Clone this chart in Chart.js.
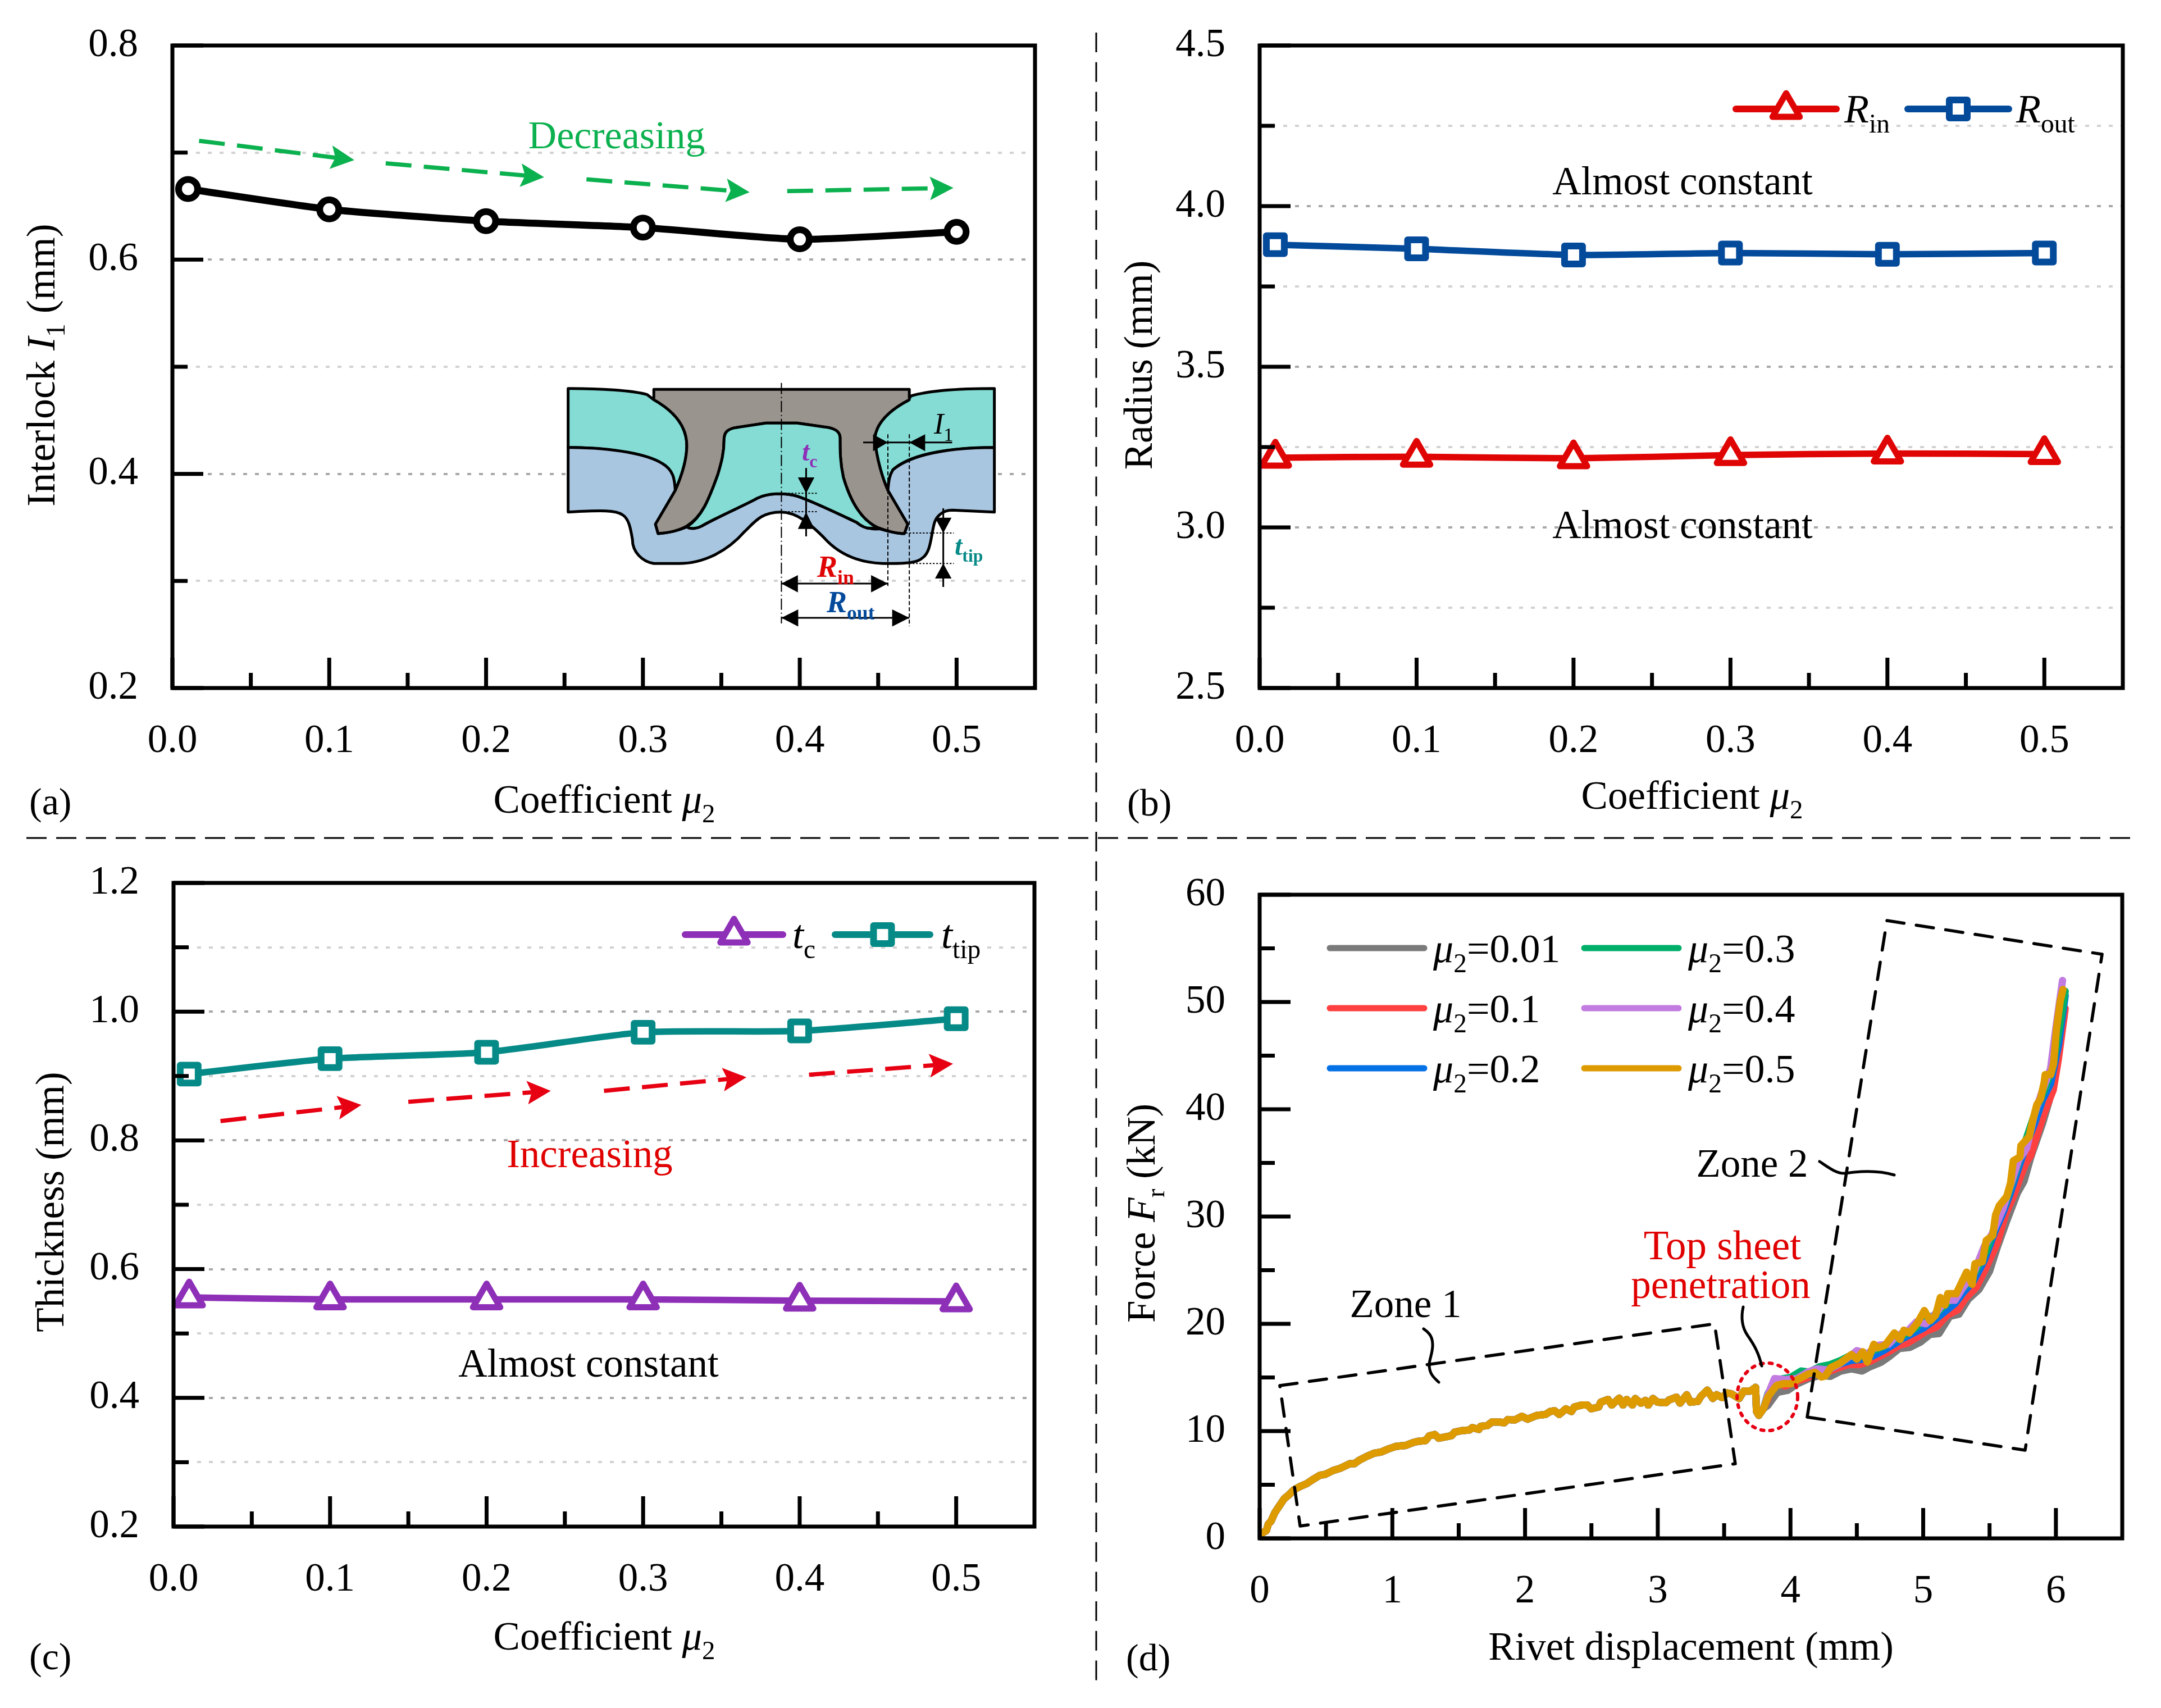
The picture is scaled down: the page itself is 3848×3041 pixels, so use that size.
<!DOCTYPE html>
<html>
<head>
<meta charset="utf-8">
<title>Effect of friction coefficient</title>
<script src="https://cdn.jsdelivr.net/npm/chart.js@4"></script>
<style>
    html, body { margin: 0; padding: 0; background: #fff; }
    #page { position: relative; width: 3848px; height: 3041px; overflow: hidden; background: #fff; font-family: "Liberation Serif", serif; }
    canvas { position: absolute; }
    svg { position: absolute; left: 0; top: 0; }
    .lbl { position: absolute; white-space: nowrap; line-height: 1; color: #000; }
    .lbl sub { font-size: .66em; vertical-align: -.38em; line-height: 0; }
</style>
</head>
<body>
<div id="page">
    <canvas id="panel-a"></canvas>
    <canvas id="panel-b"></canvas>
    <canvas id="panel-c"></canvas>
    <canvas id="panel-d"></canvas>
    <svg id="overlay" width="3848" height="3041" viewBox="0 0 3848 3041" fill="none">
        <!-- panel separators -->
        <path d="M47 1492H3800" stroke="#000" stroke-width="3" stroke-dasharray="36 17"/>
        <path d="M1952 58V3000" stroke="#000" stroke-width="3" stroke-dasharray="35 17.7"/>
        <!-- leader curves, panel d -->
        <g stroke="#000" stroke-width="5" stroke-linecap="round">
            <path d="M2535 2366C2548 2375 2551 2383 2551 2395C2551 2410 2545 2420 2545 2430C2545 2445 2552 2452 2562 2461"/>
            <path d="M3104 2327C3100 2345 3101 2362 3112 2378C3124 2395 3132 2410 3137 2432"/>
            <path d="M3240 2068C3255 2078 3270 2090 3286 2089C3305 2086 3340 2082 3373 2092"/>
        </g>
        <!-- cross-section sketch, panel a -->
        <g transform="translate(950 650) scale(.587 .3333)" stroke="#000" stroke-width="5" stroke-linejoin="round">
            <g vector-effect="non-scaling-stroke">
            <path vector-effect="non-scaling-stroke" fill="#84dcd4" d="M105 125C200 125 300 135 345 158L365 185C420 240 465 320 465 430C465 520 445 610 430 670L415 570C400 520 300 440 105 440Z"/>
            <path vector-effect="non-scaling-stroke" fill="#84dcd4" d="M1398 125C1300 125 1200 135 1145 165L1135 190C1080 240 1040 310 1035 390C1040 500 1060 610 1075 670C1075 620 1080 590 1090 560C1120 510 1200 440 1398 440Z"/>
            <path vector-effect="non-scaling-stroke" fill="#a9c6e1" d="M105 440C250 440 350 480 390 525C425 560 428 610 430 670L370 850L378 900C420 895 445 880 465 865C480 880 500 870 510 860C570 800 640 750 680 710C710 685 760 680 800 700C850 730 920 790 980 840C1000 870 1030 880 1050 875C1070 885 1100 900 1125 900L1135 850L1075 670C1078 610 1080 590 1090 560C1130 500 1220 440 1398 440L1398 785L1270 775C1240 775 1220 810 1215 850C1205 920 1205 1000 1180 1030C1165 1055 1140 1060 1060 1060C980 1055 920 1000 880 920C840 850 800 785 750 785C690 785 670 840 640 890C590 990 520 1060 440 1060L365 1060C330 1050 300 1000 300 930C295 880 290 820 270 800C250 775 210 775 105 785Z"/>
            <path vector-effect="non-scaling-stroke" fill="#9a948e" d="M365 130L1140 130L1140 185C1080 240 1040 310 1035 390C1040 500 1060 610 1075 670L1135 850L1125 900C1100 900 1070 885 1040 865C990 820 960 720 940 600C930 520 930 460 930 390C930 350 910 335 880 330L800 310L705 310L610 335C585 345 578 365 578 400C578 470 570 520 560 580C530 730 510 810 465 860C445 880 420 895 378 900L370 850L430 670C445 610 465 520 465 430C465 320 420 240 365 185Z"/>
            <path vector-effect="non-scaling-stroke" fill="#84dcd4" d="M578 400C578 365 585 345 610 335L705 310L800 310L880 330C910 335 930 350 930 390C930 460 930 520 940 600C960 720 990 820 1040 865C1020 880 1000 870 980 840C920 790 850 730 800 700C760 680 710 685 680 710C640 750 570 800 510 860C500 870 480 880 465 865C510 810 530 730 560 580C570 520 578 470 578 400Z"/>
            </g>
            <g stroke-width="2">
                <path vector-effect="non-scaling-stroke" stroke-dasharray="20 5 2 5" d="M752 95V1380"/>
                <path vector-effect="non-scaling-stroke" stroke-dasharray="7 4" d="M1075 370V1180M1140 370V1395"/>
                <path vector-effect="non-scaling-stroke" stroke-dasharray="3 3" d="M752 685H860M752 783H860M1130 897H1275M1140 1060H1275"/>
                <path vector-effect="non-scaling-stroke" stroke-width="3" d="M1000 413H1270M827 550V915M1243 765V1185M752 1167H1075M752 1350H1140"/>
            </g>
            <path fill="#000" stroke="none" d="M1030 370V460L1075 413ZM1188 370V460L1140 413ZM802 600H852L827 685ZM802 875H852L827 785ZM1218 815H1268L1243 897ZM1218 1140H1268L1243 1060ZM802 1122V1214L752 1167ZM1024 1122V1214L1075 1167ZM803 1305V1397L752 1350ZM1088 1305V1397L1140 1350Z"/>
        </g>
    </svg>
</div>

<script>
// friction coefficient, panels a to c
const frictionCoeff = [0.01, 0.1, 0.2, 0.3, 0.4, 0.5];
const interlockI1 = [0.666, 0.647, 0.636, 0.630, 0.619, 0.626];
const radiusIn = [3.217, 3.220, 3.215, 3.225, 3.230, 3.228];
const radiusOut = [3.880, 3.867, 3.848, 3.854, 3.850, 3.854];
const thicknessC = [0.556, 0.553, 0.553, 0.553, 0.551, 0.550];
const thicknessTip = [0.903, 0.927, 0.937, 0.968, 0.970, 0.989];

// force curves: all six runs share the path up to sheet penetration
const sharedDisp = [0.004, 0.016, 0.051, 0.065, 0.086, 0.114, 0.142, 0.185, 0.220, 0.255, 0.298, 0.354, 0.396, 0.453, 0.495, 0.552, 0.608, 0.679, 0.714, 0.749, 0.805, 0.862, 0.918, 0.975, 1.031, 1.102, 1.158, 1.200, 1.250, 1.278, 1.320, 1.349, 1.398, 1.447, 1.468, 1.525, 1.581, 1.602, 1.652, 1.666, 1.715, 1.751, 1.807, 1.842, 1.870, 1.920, 1.976, 2.019, 2.089, 2.153, 2.188, 2.223, 2.258, 2.308, 2.350, 2.371, 2.428, 2.470, 2.498, 2.555, 2.569, 2.625, 2.653, 2.710, 2.738, 2.766, 2.809, 2.830, 2.872, 2.907, 2.928, 2.964, 2.999, 3.063, 3.084, 3.140, 3.168, 3.218, 3.246, 3.302, 3.323, 3.373, 3.415, 3.443, 3.486, 3.521, 3.556, 3.613, 3.648, 3.697, 3.737, 3.744, 3.761, 3.796];
const sharedForce = [0.12, 0.47, 0.73, 1.34, 1.61, 2.39, 2.91, 3.70, 4.05, 4.49, 4.80, 5.10, 5.45, 5.88, 5.97, 6.32, 6.54, 6.96, 6.96, 7.28, 7.63, 7.94, 8.06, 8.36, 8.59, 8.67, 8.94, 9.06, 9.11, 9.55, 9.69, 9.34, 9.46, 9.58, 9.90, 10.04, 10.10, 10.33, 10.16, 10.45, 10.51, 10.85, 10.85, 10.77, 11.08, 11.03, 11.38, 11.12, 11.47, 11.55, 11.82, 11.90, 11.55, 12.08, 11.82, 12.25, 12.43, 12.43, 12.08, 12.25, 12.69, 12.95, 12.43, 13.07, 12.43, 12.95, 12.43, 13.04, 12.60, 12.86, 12.43, 13.04, 12.69, 12.65, 12.90, 13.16, 12.60, 13.39, 12.69, 12.77, 13.21, 13.82, 13.04, 13.39, 13.12, 13.56, 13.47, 13.04, 13.73, 13.73, 14.08, 11.82, 11.47, 12.08];

const grayDisp = [3.83, 3.90, 3.98, 4.05, 4.14, 4.22, 4.30, 4.38, 4.46, 4.54, 4.60, 4.68, 4.74, 4.82, 4.90, 4.98, 5.05, 5.12, 5.20, 5.27, 5.34, 5.42, 5.50, 5.56, 5.63, 5.71, 5.76, 5.81, 5.90, 5.95, 6.00, 6.06];
const grayForce = [12.4, 13.6, 13.8, 14.4, 14.9, 15.2, 15.1, 15.6, 15.8, 15.6, 16.0, 16.4, 16.9, 17.7, 17.8, 18.3, 19.0, 19.1, 20.7, 20.9, 22.3, 23.2, 24.9, 27.2, 29.6, 32.2, 33.3, 35.5, 38.7, 40.8, 44.5, 48.5];
const redDisp = [3.83, 3.88, 3.96, 4.06, 4.13, 4.20, 4.28, 4.36, 4.44, 4.52, 4.60, 4.66, 4.74, 4.82, 4.88, 4.96, 5.02, 5.10, 5.18, 5.26, 5.32, 5.40, 5.48, 5.56, 5.62, 5.68, 5.73, 5.77, 5.81, 5.91, 5.98, 6.02, 6.07];
const redForce = [13.0, 14.6, 14.2, 14.7, 15.0, 15.5, 15.5, 15.9, 16.2, 16.2, 16.5, 16.9, 17.4, 18.0, 18.2, 18.8, 19.3, 19.7, 20.8, 21.3, 22.4, 23.4, 25.4, 27.6, 30.2, 31.9, 33.6, 34.9, 35.7, 39.6, 41.8, 44.8, 49.4];
const blueDisp = [3.83, 3.90, 3.98, 4.06, 4.15, 4.22, 4.30, 4.38, 4.46, 4.54, 4.62, 4.70, 4.78, 4.84, 4.92, 5.00, 5.08, 5.16, 5.24, 5.30, 5.38, 5.46, 5.54, 5.60, 5.66, 5.72, 5.78, 5.84, 5.90, 5.96, 6.02, 6.07];
const blueForce = [13.2, 14.4, 14.5, 15.1, 15.3, 15.8, 15.8, 16.3, 16.6, 16.7, 17.0, 17.5, 18.1, 18.6, 19.1, 19.6, 20.3, 21.1, 21.9, 22.9, 24.0, 25.9, 28.6, 30.3, 32.3, 34.6, 36.8, 38.7, 40.9, 42.4, 46.0, 50.6];
const greenDisp = [3.83, 3.90, 4.00, 4.08, 4.14, 4.22, 4.30, 4.38, 4.46, 4.54, 4.62, 4.70, 4.78, 4.86, 4.94, 5.00, 5.08, 5.16, 5.24, 5.32, 5.40, 5.48, 5.54, 5.62, 5.68, 5.74, 5.80, 5.86, 5.92, 5.98, 6.03, 6.07];
const greenForce = [13.5, 14.8, 15.0, 15.6, 15.5, 16.0, 16.2, 16.6, 17.1, 17.0, 17.5, 17.9, 18.5, 19.0, 19.6, 20.3, 20.8, 21.7, 22.6, 23.6, 25.0, 26.9, 29.1, 31.3, 33.6, 35.9, 38.1, 40.3, 42.0, 44.2, 47.8, 51.0];
const purpleDisp = [3.83, 3.88, 3.96, 4.05, 4.13, 4.20, 4.28, 4.36, 4.44, 4.50, 4.58, 4.66, 4.74, 4.80, 4.88, 4.95, 5.02, 5.09, 5.17, 5.24, 5.30, 5.38, 5.46, 5.52, 5.60, 5.66, 5.72, 5.78, 5.84, 5.90, 5.96, 6.00, 6.05];
const purpleForce = [13.4, 14.9, 14.8, 14.9, 15.5, 15.8, 15.7, 16.2, 16.9, 17.5, 17.2, 18.0, 18.1, 18.9, 19.3, 20.2, 20.0, 20.9, 22.2, 22.2, 23.4, 24.7, 27.2, 28.4, 30.7, 33.0, 35.3, 36.4, 39.6, 41.8, 43.8, 47.6, 52.0];
const goldDisp = [3.831, 3.895, 3.951, 4.008, 4.050, 4.134, 4.184, 4.233, 4.262, 4.304, 4.374, 4.459, 4.501, 4.544, 4.579, 4.628, 4.656, 4.713, 4.783, 4.826, 4.854, 4.896, 4.953, 5.009, 5.052, 5.094, 5.129, 5.164, 5.185, 5.249, 5.327, 5.369, 5.390, 5.446, 5.475, 5.524, 5.545, 5.573, 5.630, 5.658, 5.679, 5.729, 5.736, 5.799, 5.820, 5.856, 5.884, 5.912, 5.919, 5.961, 5.983, 6.004, 6.032, 6.053];
const goldForce = [13.21, 14.26, 14.43, 14.43, 14.78, 15.31, 15.48, 15.04, 15.13, 15.92, 16.35, 17.14, 16.70, 17.40, 16.44, 18.10, 17.75, 18.01, 19.15, 18.53, 19.41, 19.15, 20.02, 21.24, 20.28, 20.80, 22.46, 21.76, 22.81, 22.81, 24.82, 23.68, 25.60, 25.78, 27.78, 28.22, 30.14, 31.01, 31.88, 33.11, 35.20, 35.55, 36.60, 37.47, 38.69, 40.43, 40.96, 42.53, 43.23, 43.23, 44.28, 47.42, 50.04, 51.17];

// tick values
const coeffTicks = [0, 0.1, 0.2, 0.3, 0.4, 0.5];
const coeffMinorTicks = [0.05, 0.15, 0.25, 0.35, 0.45];
const interlockTicks = [0.2, 0.4, 0.6, 0.8];
const interlockMinorTicks = [0.3, 0.5, 0.7];
const radiusTicks = [2.5, 3, 3.5, 4, 4.5];
const radiusMinorTicks = [2.75, 3.25, 3.75, 4.25];
const thicknessTicks = [0.2, 0.4, 0.6, 0.8, 1, 1.2];
const thicknessMinorTicks = [0.3, 0.5, 0.7, 0.9, 1.1];
const dispTicks = [0, 1, 2, 3, 4, 5, 6];
const dispMinorTicks = [0.5, 1.5, 2.5, 3.5, 4.5, 5.5];
const forceTicks = [0, 10, 20, 30, 40, 50, 60];
const forceMinorTicks = [5, 15, 25, 35, 45, 55];

// trend arrows, data units of their panel: x0, y0, x1, y1
const decreasingArrows = [[0.017, 0.711, 0.116, 0.693], [0.136, 0.690, 0.237, 0.677], [0.264, 0.675, 0.368, 0.663], [0.392, 0.664, 0.498, 0.667]];
const increasingArrows = [[0.030, 0.830, 0.120, 0.855], [0.150, 0.860, 0.241, 0.877], [0.275, 0.877, 0.366, 0.898], [0.406, 0.902, 0.498, 0.919]];

// zone outlines in panel d, data units
const zone1Box = [[0.152, 14.24], [3.428, 20.0], [3.584, 6.96], [0.305, 1.15]];
const zone2Box = [[4.126, 11.31], [5.768, 8.22], [6.348, 54.45], [4.727, 57.59]];
const penetrationSpot = { x: 3.826, y: 13.19, rx: 0.228, ry: 3.15 };

const SERIF = '"Liberation Serif", serif';
const RED = '#e00505';
const DEEP_BLUE = '#034a9b';
const PURPLE = '#8e2fb8';
const TEAL = '#068a87';
const ARROW_GREEN = '#0cb14f';
const ARROW_RED = '#e60012';
const TEXT_RED = '#e00000';

const CURVE_COLORS = { gray: '#7a7a7a', red: '#ff4040', blue: '#0571e6', green: '#00b06a', purple: '#c27be0', gold: '#dd9b00' };

function xy(xs, ys) {
    return xs.map((x, i) => ({ x: x, y: ys[i] }));
}

function withShared(disp, force) {
    return xy(sharedDisp.concat(disp), sharedForce.concat(force));
}

function drawMarker(ctx, style, x, y, radius) {
    ctx.beginPath();
    if (style === 'triangle') {
        const half = radius * Math.sqrt(3) / 2;
        ctx.moveTo(x, y - radius);
        ctx.lineTo(x + half, y + radius / 2);
        ctx.lineTo(x - half, y + radius / 2);
        ctx.closePath();
    } else {
        const half = radius * Math.SQRT1_2;
        ctx.rect(x - half, y - half, half * 2, half * 2);
    }
    ctx.fill();
    ctx.stroke();
}

// frame ticks, trend arrows, swatches and zone outlines, all on top of the curves
function makeDecor(cfg) {
    return {
        id: 'decor',
        beforeDatasetsDraw(chart) {
            chart.ctx.lineJoin = 'round';
        },
        afterDatasetsDraw(chart) {
            const ctx = chart.ctx;
            const area = chart.chartArea;
            const sx = chart.scales.x;
            const sy = chart.scales.y;

            ctx.save();
            (cfg.arrows || []).forEach(a => {
                const x0 = sx.getPixelForValue(a[0]), y0 = sy.getPixelForValue(a[1]);
                const x1 = sx.getPixelForValue(a[2]), y1 = sy.getPixelForValue(a[3]);
                const ang = Math.atan2(y1 - y0, x1 - x0);
                const headLen = 42, headHalf = 21;
                ctx.strokeStyle = cfg.arrowColor;
                ctx.fillStyle = cfg.arrowColor;
                ctx.lineWidth = 7.5;
                ctx.setLineDash([46, 22]);
                ctx.lineCap = 'butt';
                ctx.beginPath();
                ctx.moveTo(x0, y0);
                ctx.lineTo(x1 - Math.cos(ang) * (headLen - 8), y1 - Math.sin(ang) * (headLen - 8));
                ctx.stroke();
                ctx.setLineDash([]);
                ctx.translate(x1, y1);
                ctx.rotate(ang);
                ctx.beginPath();
                ctx.moveTo(0, 0);
                ctx.lineTo(-headLen, -headHalf);
                ctx.lineTo(-headLen + 8, 0);
                ctx.lineTo(-headLen, headHalf);
                ctx.closePath();
                ctx.fill();
                ctx.rotate(-ang);
                ctx.translate(-x1, -y1);
            });

            (cfg.boxes || []).forEach(box => {
                ctx.strokeStyle = '#000';
                ctx.lineWidth = 5.5;
                ctx.lineCap = 'round';
                ctx.setLineDash([31, 22]);
                ctx.beginPath();
                box.forEach((p, i) => {
                    const px = sx.getPixelForValue(p[0]), py = sy.getPixelForValue(p[1]);
                    if (i === 0) ctx.moveTo(px, py); else ctx.lineTo(px, py);
                });
                ctx.closePath();
                ctx.stroke();
            });

            if (cfg.spot) {
                const cx = sx.getPixelForValue(cfg.spot.x), cy = sy.getPixelForValue(cfg.spot.y);
                ctx.strokeStyle = ARROW_RED;
                ctx.lineWidth = 6;
                ctx.lineCap = 'round';
                ctx.setLineDash([5, 11]);
                ctx.beginPath();
                ctx.ellipse(cx, cy, sx.getPixelForValue(cfg.spot.x + cfg.spot.rx) - cx, cy - sy.getPixelForValue(cfg.spot.y + cfg.spot.ry), 0, 0, Math.PI * 2);
                ctx.stroke();
            }
            ctx.setLineDash([]);

            // legend swatches, page position minus canvas offset
            (cfg.swatches || []).forEach(s => {
                const ox = cfg.frame.canvas[0], oy = cfg.frame.canvas[1];
                ctx.strokeStyle = s.color;
                ctx.lineWidth = s.width;
                ctx.lineCap = 'round';
                ctx.lineJoin = 'round';
                ctx.beginPath();
                ctx.moveTo(s.x0 - ox, s.y - oy);
                ctx.lineTo(s.x1 - ox, s.y - oy);
                ctx.stroke();
                if (s.marker) {
                    ctx.fillStyle = '#fff';
                    ctx.lineWidth = s.markerWidth;
                    drawMarker(ctx, s.marker, (s.x0 + s.x1) / 2 - ox, s.y - oy, s.markerRadius);
                }
            });

            // inward ticks and frame
            ctx.strokeStyle = '#000';
            ctx.lineWidth = 7;
            ctx.lineCap = 'butt';
            ctx.lineJoin = 'miter';
            const tick = (x0, y0, x1, y1) => {
                ctx.beginPath();
                ctx.moveTo(x0, y0);
                ctx.lineTo(x1, y1);
                ctx.stroke();
            };
            cfg.xMajor.forEach(v => { const p = sx.getPixelForValue(v); tick(p, area.bottom, p, area.bottom - 54); });
            cfg.xMinor.forEach(v => { const p = sx.getPixelForValue(v); tick(p, area.bottom, p, area.bottom - 27); });
            cfg.yMajor.forEach(v => { const p = sy.getPixelForValue(v); tick(area.left, p, area.left + 55, p); });
            cfg.yMinor.forEach(v => { const p = sy.getPixelForValue(v); tick(area.left, p, area.left + 27, p); });
            ctx.strokeRect(area.left, area.top, area.right - area.left, area.bottom - area.top);
            ctx.restore();
        }
    };
}

function makePanel(id, cfg) {
    const el = document.getElementById(id);
    const f = cfg.frame;
    const [cx, cy, cw, ch] = f.canvas;
    el.width = cw;
    el.height = ch;
    el.style.left = cx + 'px';
    el.style.top = cy + 'px';
    el.style.width = cw + 'px';
    el.style.height = ch + 'px';

    const tickFont = { family: SERIF, size: 71 };
    return new Chart(el.getContext('2d'), {
        type: 'scatter',
        data: { datasets: cfg.datasets },
        plugins: [makeDecor(cfg)],
        options: {
            responsive: false,
            animation: false,
            devicePixelRatio: 1,
            layout: {
                autoPadding: false,
                padding: { left: 0, top: f.top - cy, right: cx + cw - f.right, bottom: 0 }
            },
            plugins: { legend: { display: false }, title: { display: false }, tooltip: { enabled: false } },
            scales: {
                x: {
                    type: 'linear',
                    min: cfg.xRange[0],
                    max: cfg.xRange[1],
                    afterBuildTicks: s => { s.ticks = cfg.xMajor.concat(cfg.xMinor).sort((a, b) => a - b).map(v => ({ value: v })); },
                    afterFit: s => { s.height = cy + ch - f.bottom; s.paddingLeft = 0; s.paddingRight = 0; },
                    grid: { display: false, drawTicks: false },
                    border: { display: false },
                    ticks: {
                        autoSkip: false,
                        maxRotation: 0,
                        padding: cfg.xPad,
                        color: '#000',
                        font: tickFont,
                        callback: v => (cfg.xMajor.includes(v) ? v.toFixed(cfg.xDigits) : '')
                    }
                },
                y: {
                    type: 'linear',
                    min: cfg.yRange[0],
                    max: cfg.yRange[1],
                    afterBuildTicks: s => { s.ticks = cfg.yMajor.concat(cfg.yMinor).sort((a, b) => a - b).map(v => ({ value: v })); },
                    afterFit: s => { s.width = f.left - cx; s.paddingTop = 0; s.paddingBottom = 0; },
                    grid: {
                        display: cfg.dotted,
                        drawTicks: false,
                        lineWidth: 4,
                        color: c => (cfg.yMajor.includes(c.tick.value) ? '#a8a8a8' : '#d2d2d2')
                    },
                    border: { display: false, dash: [7, 14] },
                    ticks: {
                        autoSkip: false,
                        padding: 61,
                        color: '#000',
                        font: tickFont,
                        callback: v => (cfg.yMajor.includes(v) ? v.toFixed(cfg.yDigits) : '')
                    }
                }
            }
        }
    });
}

function markerLine(values, color, style, radius, width, lineWidth) {
    return {
        data: xy(frictionCoeff, values),
        showLine: true,
        tension: 0.2,
        borderColor: color,
        borderWidth: lineWidth,
        pointStyle: style,
        pointRadius: radius,
        pointBackgroundColor: '#fff',
        pointBorderColor: color,
        pointBorderWidth: width,
        clip: false
    };
}

function curve(data, color, order) {
    return {
        data: data,
        showLine: true,
        tension: 0,
        borderColor: color,
        borderWidth: 13,
        borderCapStyle: 'round',
        borderJoinStyle: 'round',
        pointRadius: 0,
        order: order
    };
}

makePanel('panel-a', {
    frame: { left: 307, top: 81, right: 1843, bottom: 1225, canvas: [0, 0, 1950, 1490] },
    xRange: [0, 0.55], yRange: [0.2, 0.8], xPad: 53, xDigits: 1, yDigits: 1, dotted: true,
    xMajor: coeffTicks, xMinor: coeffMinorTicks, yMajor: interlockTicks, yMinor: interlockMinorTicks,
    arrows: decreasingArrows, arrowColor: ARROW_GREEN,
    datasets: [markerLine(interlockI1, '#000', 'circle', 17, 12, 12.5)]
});

makePanel('panel-b', {
    frame: { left: 2243, top: 81, right: 3780, bottom: 1225, canvas: [1955, 0, 1893, 1490] },
    xRange: [0, 0.55], yRange: [2.5, 4.5], xPad: 53, xDigits: 1, yDigits: 1, dotted: true,
    xMajor: coeffTicks, xMinor: coeffMinorTicks, yMajor: radiusTicks, yMinor: radiusMinorTicks,
    swatches: [
        { color: RED, x0: 3091, x1: 3270, y: 194, width: 12, marker: 'triangle', markerRadius: 28, markerWidth: 11 },
        { color: DEEP_BLUE, x0: 3397, x1: 3577, y: 194, width: 12, marker: 'rect', markerRadius: 22.6, markerWidth: 12 }
    ],
    datasets: [markerLine(radiusIn, RED, 'triangle', 28, 11, 11.5), markerLine(radiusOut, DEEP_BLUE, 'rect', 22.6, 12, 11.5)]
});

makePanel('panel-c', {
    frame: { left: 309, top: 1572, right: 1842, bottom: 2718, canvas: [0, 1495, 1950, 1546] },
    xRange: [0, 0.55], yRange: [0.2, 1.2], xPad: 53, xDigits: 1, yDigits: 1, dotted: true,
    xMajor: coeffTicks, xMinor: coeffMinorTicks, yMajor: thicknessTicks, yMinor: thicknessMinorTicks,
    arrows: increasingArrows, arrowColor: ARROW_RED,
    swatches: [
        { color: PURPLE, x0: 1220, x1: 1394, y: 1664, width: 12, marker: 'triangle', markerRadius: 28, markerWidth: 11 },
        { color: TEAL, x0: 1487, x1: 1656, y: 1664, width: 12, marker: 'rect', markerRadius: 22.6, markerWidth: 12 }
    ],
    datasets: [markerLine(thicknessC, PURPLE, 'triangle', 28, 11, 11.5), markerLine(thicknessTip, TEAL, 'rect', 22.6, 12, 11.5)]
});

makePanel('panel-d', {
    frame: { left: 2243, top: 1593, right: 3779, bottom: 2739, canvas: [1955, 1495, 1893, 1546] },
    xRange: [0, 6.5], yRange: [0, 60], xPad: 53, xDigits: 0, yDigits: 0, dotted: false,
    xMajor: dispTicks, xMinor: dispMinorTicks, yMajor: forceTicks, yMinor: forceMinorTicks,
    boxes: [zone1Box, zone2Box], spot: penetrationSpot,
    swatches: [
        { color: CURVE_COLORS.gray, x0: 2368, x1: 2536, y: 1688, width: 11 },
        { color: CURVE_COLORS.red, x0: 2368, x1: 2536, y: 1795, width: 11 },
        { color: CURVE_COLORS.blue, x0: 2368, x1: 2536, y: 1902, width: 11 },
        { color: CURVE_COLORS.green, x0: 2821, x1: 2989, y: 1688, width: 11 },
        { color: CURVE_COLORS.purple, x0: 2821, x1: 2989, y: 1795, width: 11 },
        { color: CURVE_COLORS.gold, x0: 2821, x1: 2989, y: 1902, width: 11 }
    ],
    datasets: [
        curve(withShared(grayDisp, grayForce), CURVE_COLORS.gray, 5),
        curve(withShared(redDisp, redForce), CURVE_COLORS.red, 4),
        curve(withShared(blueDisp, blueForce), CURVE_COLORS.blue, 3),
        curve(withShared(greenDisp, greenForce), CURVE_COLORS.green, 2),
        curve(withShared(purpleDisp, purpleForce), CURVE_COLORS.purple, 1),
        curve(withShared(goldDisp, goldForce), CURVE_COLORS.gold, 0)
    ]
});

// text with italics and subscripts, placed by its baseline
const MU2 = '<i>μ</i><sub>2</sub>';
const pageLabels = [
    { html: 'Coefficient ' + MU2, x: 1076, y: 1447, align: 'center', size: 71 },
    { html: 'Coefficient ' + MU2, x: 3013, y: 1440, align: 'center', size: 71 },
    { html: 'Coefficient ' + MU2, x: 1076, y: 2937, align: 'center', size: 71 },
    { html: 'Rivet displacement (mm)', x: 3011, y: 2955, align: 'center', size: 71 },
    { html: '(a)', x: 52, y: 1450, size: 68 },
    { html: '(b)', x: 2007, y: 1452, size: 68 },
    { html: '(c)', x: 52, y: 2972, size: 68 },
    { html: '(d)', x: 2005, y: 2974, size: 68 },
    { html: 'Interlock <i>I</i><sub>1</sub> (mm)', x: 97, y: 650, rotate: true, size: 72 },
    { html: 'Radius (mm)', x: 2051, y: 650, rotate: true, size: 71 },
    { html: 'Thickness (mm)', x: 113, y: 2140, rotate: true, size: 71 },
    { html: 'Force <i>F</i><sub>r</sub> (kN)', x: 2056, y: 2160, rotate: true, size: 71 },
    { html: 'Decreasing', x: 1098, y: 265, align: 'center', size: 70, color: ARROW_GREEN },
    { html: 'Increasing', x: 1050, y: 2078, align: 'center', size: 71, color: TEXT_RED },
    { html: 'Almost constant', x: 2996, y: 346, align: 'center', size: 71 },
    { html: 'Almost constant', x: 2996, y: 958, align: 'center', size: 71 },
    { html: 'Almost constant', x: 1048, y: 2451, align: 'center', size: 71 },
    { html: '<i>R</i><sub>in</sub>', x: 3284, y: 218, size: 72 },
    { html: '<i>R</i><sub>out</sub>', x: 3590, y: 218, size: 72 },
    { html: '<i>t</i><sub>c</sub>', x: 1411, y: 1688, size: 72 },
    { html: '<i>t</i><sub>tip</sub>', x: 1676, y: 1688, size: 72 },
    { html: MU2 + '=0.01', x: 2552, y: 1713, size: 72 },
    { html: MU2 + '=0.1', x: 2552, y: 1820, size: 72 },
    { html: MU2 + '=0.2', x: 2552, y: 1927, size: 72 },
    { html: MU2 + '=0.3', x: 3006, y: 1713, size: 72 },
    { html: MU2 + '=0.4', x: 3006, y: 1820, size: 72 },
    { html: MU2 + '=0.5', x: 3006, y: 1927, size: 72 },
    { html: 'Zone 1', x: 2503, y: 2345, align: 'center', size: 71 },
    { html: 'Zone 2', x: 3120, y: 2095, align: 'center', size: 71 },
    { html: 'Top sheet', x: 3067, y: 2242, align: 'center', size: 73, color: TEXT_RED },
    { html: 'penetration', x: 3064, y: 2311, align: 'center', size: 71, color: TEXT_RED },
    { html: '<i>I</i><sub>1</sub>', x: 1663, y: 773, size: 52 },
    { html: '<b><i>t</i><sub>c</sub></b>', x: 1428, y: 820, size: 48, color: PURPLE },
    { html: '<b><i>R</i><sub>in</sub></b>', x: 1455, y: 1027, size: 54, color: RED },
    { html: '<b><i>R</i><sub>out</sub></b>', x: 1472, y: 1090, size: 54, color: DEEP_BLUE },
    { html: '<b><i>t</i><sub>tip</sub></b>', x: 1700, y: 988, size: 48, color: TEAL }
];

const page = document.getElementById('page');
pageLabels.forEach(l => {
    const div = document.createElement('div');
    div.className = 'lbl';
    div.innerHTML = l.html;
    div.style.fontSize = l.size + 'px';
    div.style.left = l.x + 'px';
    div.style.top = l.y + 'px';
    if (l.color) div.style.color = l.color;
    if (l.rotate) {
        div.style.transformOrigin = '0 0';
        div.style.transform = 'rotate(-90deg) translateX(-50%) translateY(-0.8375em)';
    } else if (l.align === 'center') {
        div.style.transform = 'translate(-50%, -0.8375em)';
    } else {
        div.style.transform = 'translateY(-0.8375em)';
    }
    page.appendChild(div);
});
</script>
</body>
</html>
